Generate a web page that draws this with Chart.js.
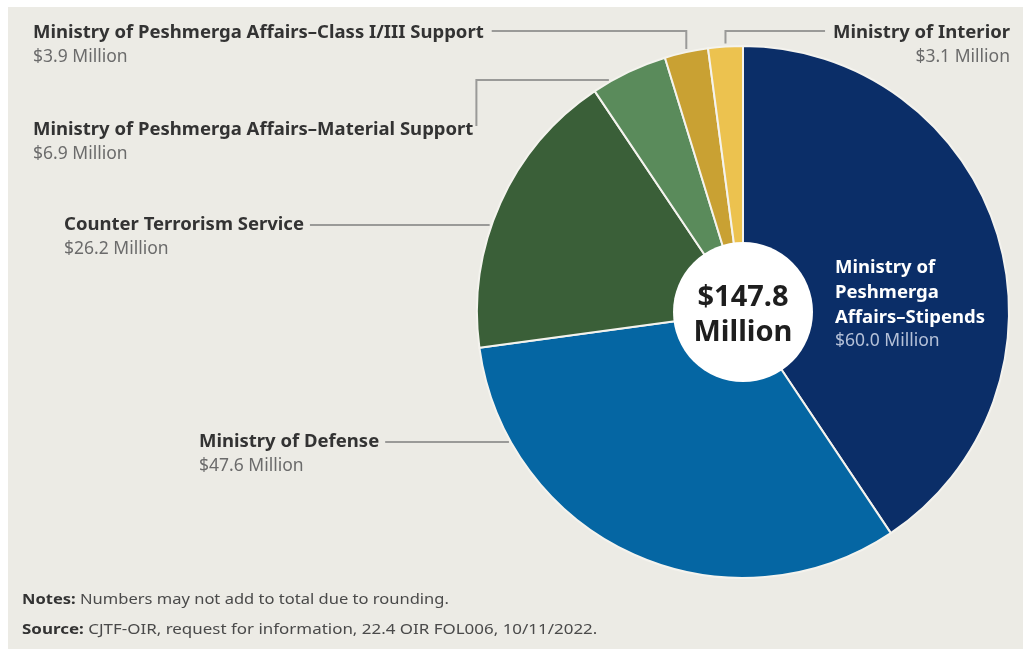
<!DOCTYPE html>
<html>
<head>
<meta charset="utf-8">
<script src="https://cdn.jsdelivr.net/npm/chart.js@4.4.1/dist/chart.umd.min.js"></script>
<style>
  html, body { margin: 0; padding: 0; background: #ffffff; }
  #wrap { position: absolute; left: 8px; top: 7px; width: 1015px; height: 642px; background: #ecebe5; }
  #c { position: absolute; left: 0; top: 0; }
</style>
</head>
<body>
<div id="wrap"><canvas id="c" width="1015" height="642"></canvas></div>
<script>
// ---- data ----
const categories = [
  "Ministry of Peshmerga Affairs–Stipends",
  "Ministry of Defense",
  "Counter Terrorism Service",
  "Ministry of Peshmerga Affairs–Material Support",
  "Ministry of Peshmerga Affairs–Class I/III Support",
  "Ministry of Interior"
];
const values = [60.0, 47.6, 26.2, 6.9, 3.9, 3.1];
const sliceColors = ["#0b2e68", "#0566a3", "#3a5f38", "#5a8b5b", "#c9a133", "#ecc24f"];
const totalLabel = ["$147.8", "Million"];
const stipendsLines = ["Ministry of", "Peshmerga", "Affairs–Stipends"];
const notesText = ["Notes:", " Numbers may not add to total due to rounding."];
const sourceText = ["Source:", " CJTF-OIR, request for information, 22.4 OIR FOL006, 10/11/2022."];

const FONT = "'Noto Sans', 'Open Sans', sans-serif";
const fmt = v => "$" + v.toFixed(1) + " Million";

// label layout (positions in canvas px, per category index)
const labelLayout = {
  4: { x: 25, y: 26, align: "left", leader: "vertical", lineY: 24 },
  5: { x: 1002, y: 26, align: "right", leader: "vertical", lineY: 24 },
  3: { x: 25, y: 123, align: "left", leader: "elbow", elbowY: 73 },
  2: { x: 56, y: 218, align: "left", leader: "horizontal" },
  1: { x: 191, y: 435, align: "left", leader: "horizontal" }
};

// draw text stretched horizontally by factor sx
function stretchText(ctx, text, x, y, sx) {
  ctx.save();
  ctx.translate(x, y);
  ctx.scale(sx, 1);
  ctx.fillText(text, 0, 0);
  ctx.restore();
  return ctx.measureText(text).width * sx;
}

const labelsPlugin = {
  id: "labelsPlugin",
  afterDatasetsDraw(chart) {
    const ctx = chart.ctx;
    const meta = chart.getDatasetMeta(0);
    const arc0 = meta.data[0];
    const cx = arc0.x, cy = arc0.y, R = arc0.outerRadius;
    ctx.save();
    // center white circle
    ctx.beginPath();
    ctx.arc(cx, cy, 70, 0, Math.PI * 2);
    ctx.fillStyle = "#ffffff";
    ctx.fill();
    ctx.fillStyle = "#1e1e1e";
    ctx.textAlign = "center";
    ctx.textBaseline = "middle";
    ctx.font = "bold 29px " + FONT;
    ctx.fillText(totalLabel[0], cx, cy - 14);
    ctx.fillText(totalLabel[1], cx, cy + 21);

    // inside label for stipends
    ctx.textAlign = "left";
    ctx.font = "bold 18.5px " + FONT;
    ctx.fillStyle = "#ffffff";
    const ix = cx + 92, iy = cy - 44;
    stipendsLines.forEach((t, i) => ctx.fillText(t, ix, iy + i * 25));
    ctx.font = "17.5px " + FONT;
    ctx.fillStyle = "#b5c1d8";
    ctx.fillText(fmt(values[0]), ix, iy + 3 * 25 - 2);

    // outside labels with leaders
    ctx.lineWidth = 2;
    ctx.strokeStyle = "#9a9a98";
    Object.keys(labelLayout).forEach(k => {
      const i = +k;
      const L = labelLayout[i];
      const arc = meta.data[i];
      ctx.textAlign = L.align;
      ctx.textBaseline = "middle";
      ctx.font = "bold 18.5px " + FONT;
      ctx.fillStyle = "#333333";
      ctx.fillText(categories[i], L.x, L.y);
      const w = ctx.measureText(categories[i]).width;
      ctx.font = "17.5px " + FONT;
      ctx.fillStyle = "#6b6b6b";
      ctx.fillText(fmt(values[i]), L.x, L.y + 24);

      const mid = (arc.startAngle + arc.endAngle) / 2;
      ctx.beginPath();
      if (L.leader === "vertical") {
        const px = cx + Math.cos(mid) * R;
        const py = cy - Math.sqrt(Math.max(R * R - (px - cx) * (px - cx), 0));
        const tx = L.align === "left" ? L.x + w + 8 : L.x - w - 8;
        ctx.moveTo(tx, L.lineY);
        ctx.lineTo(px, L.lineY);
        ctx.lineTo(px, py - 3);
      } else if (L.leader === "elbow") {
        const tx = L.x + w + 3;
        const dy = L.elbowY - cy;
        const px = cx - Math.sqrt(Math.max(R * R - dy * dy, 0));
        ctx.moveTo(tx, L.y - 4);
        ctx.lineTo(tx, L.elbowY);
        ctx.lineTo(px - 4, L.elbowY);
      } else {
        const tx = L.x + w + 6;
        const dy = L.y - cy;
        const px = cx - Math.sqrt(Math.max(R * R - dy * dy, 0));
        ctx.moveTo(tx, L.y);
        ctx.lineTo(px - 2, L.y);
      }
      ctx.stroke();
    });

    // notes & source
    ctx.textAlign = "left";
    ctx.textBaseline = "middle";
    const drawNote = (parts, y, sx) => {
      ctx.font = "bold 14px " + FONT;
      ctx.fillStyle = "#333333";
      const w = stretchText(ctx, parts[0], 14, y, sx);
      ctx.font = "14px " + FONT;
      ctx.fillStyle = "#4a4a4a";
      stretchText(ctx, parts[1], 14 + w, y, sx);
    };
    drawNote(notesText, 593, 1.18);
    drawNote(sourceText, 623, 1.21);
    ctx.restore();
  }
};

new Chart(document.getElementById("c"), {
  type: "pie",
  data: {
    labels: categories,
    datasets: [{
      data: values,
      backgroundColor: sliceColors,
      borderColor: "#f4f3ee",
      borderWidth: 2
    }]
  },
  options: {
    responsive: false,
    animation: false,
    events: [],
    layout: { padding: { left: 464, right: 9, top: 38, bottom: 70 } },
    plugins: { legend: { display: false }, tooltip: { enabled: false } }
  },
  plugins: [labelsPlugin]
});
</script>
</body>
</html>
